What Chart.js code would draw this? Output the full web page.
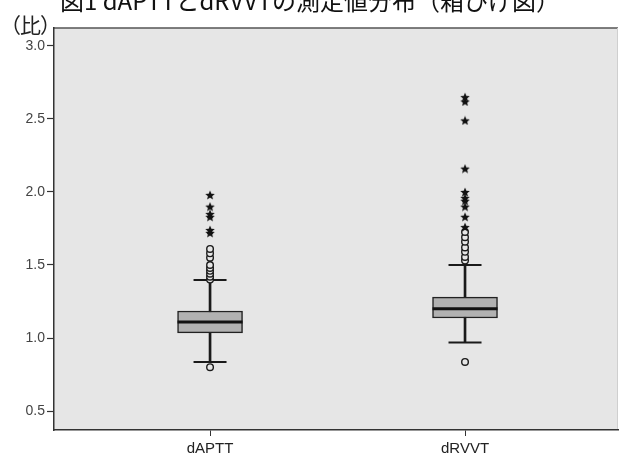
<!DOCTYPE html>
<html>
<head>
<meta charset="utf-8">
<script src="https://cdn.jsdelivr.net/npm/chart.js@4"></script>
<style>
  body { margin: 0; background: #fff; }
  #wrap { position: relative; width: 620px; height: 457px; overflow: hidden; }
  #title { position: absolute; left: 0; width: 620px; top: -12px; text-align: center;
    font: 24px "Noto Sans CJK JP", sans-serif; line-height: 24px; color: #111; white-space: nowrap; }
  #unit { position: absolute; left: 0px; top: 13px; font: 21px "Noto Sans CJK JP", sans-serif;
    line-height: 22px; color: #222; letter-spacing: -1px; }
  canvas { position: absolute; left: 0; top: 0; }
</style>
</head>
<body>
<div id="wrap">
  <canvas id="chart" width="620" height="457"></canvas>
  <div id="title">図1 dAPTTとdRVVTの測定値分布（箱ひげ図）</div>
  <div id="unit">（比）</div>
</div>
<script>
// box plot values
const categories = ['dAPTT', 'dRVVT'];
const whiskerLow = [0.836, 0.97];
const q1 = [1.035, 1.137];
const median = [1.11, 1.20];
const q3 = [1.185, 1.28];
const whiskerHigh = [1.397, 1.50];
const circleOutliers = [
  [0.80, 1.40, 1.42, 1.44, 1.46, 1.48, 1.50, 1.55, 1.58, 1.61],
  [0.836, 1.53, 1.555, 1.59, 1.62, 1.66, 1.69, 1.726]
];
const starOutliers = [
  [1.72, 1.74, 1.83, 1.85, 1.90, 1.98],
  [1.76, 1.83, 1.90, 1.94, 1.96, 2.00, 2.16, 2.49, 2.62, 2.65]
];
const yTicks = [0.5, 1.0, 1.5, 2.0, 2.5, 3.0];

// small filled star used as point style
function makeStar(size) {
  const c = document.createElement('canvas');
  c.width = size; c.height = size;
  const g = c.getContext('2d');
  const r = size / 2, ri = r * 0.45;
  g.beginPath();
  for (let i = 0; i < 10; i++) {
    const rad = (i % 2 === 0) ? r : ri;
    const a = -Math.PI / 2 + i * Math.PI / 5;
    g.lineTo(r + Math.cos(a) * rad, r + 0.5 + Math.sin(a) * rad);
  }
  g.closePath();
  g.fillStyle = '#111';
  g.fill();
  return c;
}
const star = makeStar(10);

const pts = (arr) => arr.flatMap((vals, i) => vals.map(v => ({ x: i + 1, y: v })));
const perCat = (arr) => arr.map((v, i) => ({ x: i + 1, y: v }));

const plotBg = {
  id: 'plotBg',
  beforeDraw(chart) {
    const { ctx, chartArea: a } = chart;
    ctx.save();
    ctx.fillStyle = '#e6e6e6';
    ctx.fillRect(a.left, a.top, a.right - a.left, a.bottom - a.top);
    ctx.strokeStyle = '#555';
    ctx.lineWidth = 1.5;
    ctx.beginPath();
    ctx.moveTo(a.left, a.top);
    ctx.lineTo(a.right, a.top);
    ctx.stroke();
    ctx.strokeStyle = '#cfcfcf';
    ctx.lineWidth = 1;
    ctx.beginPath();
    ctx.moveTo(a.right - 0.5, a.top);
    ctx.lineTo(a.right - 0.5, a.bottom);
    ctx.stroke();
    ctx.restore();
  }
};

new Chart(document.getElementById('chart'), {
  type: 'bar',
  plugins: [plotBg],
  data: {
    datasets: [
      {
        type: 'line', showLine: false, order: 1,
        data: pts(starOutliers),
        pointStyle: star, pointRadius: 5
      },
      {
        type: 'line', showLine: false, order: 1,
        data: pts(circleOutliers),
        pointStyle: 'circle', pointRadius: 3.3,
        backgroundColor: '#e6e6e6', borderColor: '#1a1a1a', borderWidth: 1.4
      },
      {
        type: 'line', showLine: false, order: 2,
        data: perCat(median),
        pointStyle: 'line', pointRadius: 32.5,
        borderColor: '#111', borderWidth: 3
      },
      {
        type: 'line', showLine: false, order: 2,
        data: perCat(whiskerLow).concat(perCat(whiskerHigh)),
        pointStyle: 'line', pointRadius: 16.5,
        borderColor: '#1a1a1a', borderWidth: 2
      },
      {
        order: 3, grouped: false,
        data: categories.map((c, i) => ({ x: i + 1, y: [q1[i], q3[i]] })),
        barThickness: 65,
        backgroundColor: '#b1b1b1', borderColor: '#222', borderWidth: 1.5, borderSkipped: false
      },
      {
        order: 4, grouped: false,
        data: categories.map((c, i) => ({ x: i + 1, y: [whiskerLow[i], whiskerHigh[i]] })),
        barThickness: 2,
        backgroundColor: '#1a1a1a', borderWidth: 0
      }
    ]
  },
  options: {
    responsive: false,
    animation: false,
    events: [],
    layout: { autoPadding: false, padding: { top: 28, right: 2, left: 0, bottom: 0 } },
    plugins: { legend: { display: false }, tooltip: { enabled: false } },
    scales: {
      x: {
        type: 'linear', min: 0.388, max: 2.6, offset: false,
        afterBuildTicks: (s) => { s.ticks = categories.map((c, i) => ({ value: i + 1 })); },
        afterFit: (s) => { s.height = 27; },
        grid: { drawOnChartArea: false, offset: false, tickLength: 6, tickColor: '#333', tickWidth: 1 },
        border: { color: '#333', width: 1.5 },
        ticks: {
          padding: 4, color: '#222',
          font: { family: 'Liberation Sans', size: 15 },
          callback: (v) => categories[v - 1]
        }
      },
      y: {
        min: 0.37, max: 3.123,
        afterBuildTicks: (s) => { s.ticks = yTicks.map(v => ({ value: v })); },
        afterFit: (s) => { s.width = 54; },
        grid: { drawOnChartArea: false, tickLength: 7, tickColor: '#333', tickWidth: 1.2 },
        border: { color: '#333', width: 1.5 },
        ticks: {
          padding: 2, color: '#444',
          font: { family: 'Liberation Sans', size: 14 },
          callback: (v) => v.toFixed(1)
        }
      }
    }
  }
});
</script>
</body>
</html>
